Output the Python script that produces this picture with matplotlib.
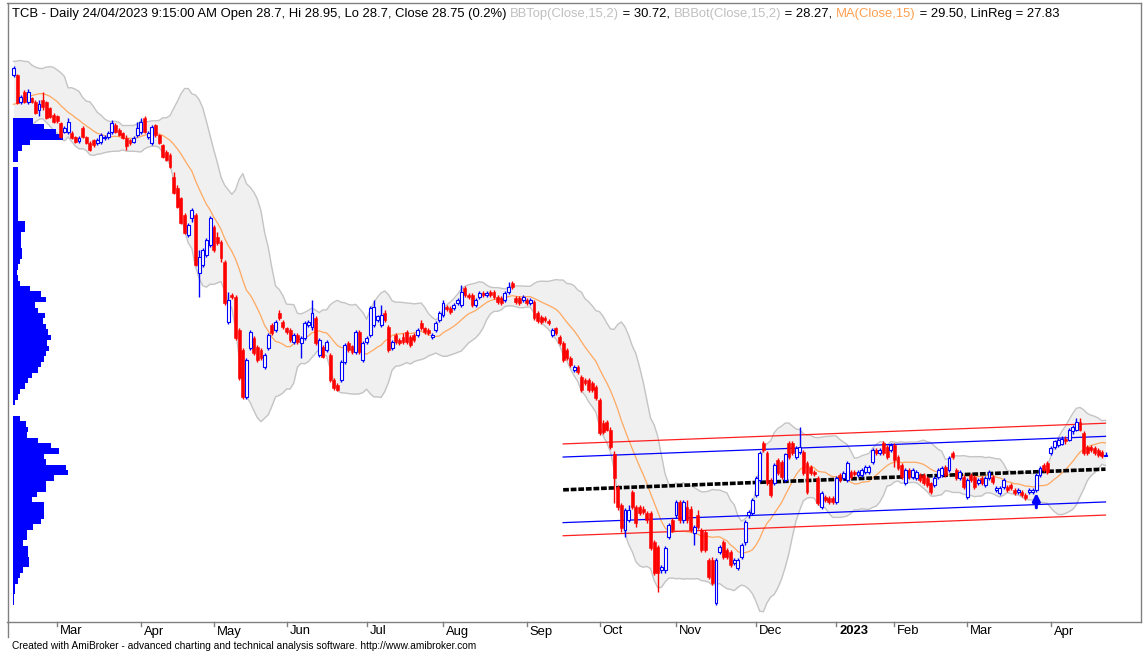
import numpy as np
import pandas as pd
import matplotlib
matplotlib.use("Agg")
import matplotlib.pyplot as plt
from matplotlib.transforms import blended_transform_factory

# ---------------- data (TCB daily, 11 Feb 2022 .. 24 Apr 2023) ----------------
pre_close = [49.5, 49.0, 48.6, 48.9, 48.3, 48.8, 49.4, 49.8, 50.3, 50.9, 51.4, 51.6, 51.9, 51.5]

open_ = [
51.95,51.95,50.3,50.9,50.3,50.55,50.3,49.8,50.4,50.3,
49.9,49.5,49.45,49.0,48.45,48.45,48.4,48.15,47.9,48.7,
48.15,47.8,47.95,47.8,47.85,48.1,48.15,48.45,48.9,48.6,
48.4,48.1,47.95,47.85,48.3,48.45,49.3,48.15,47.8,48.9,
48.3,47.65,47.25,47.05,45.7,45.05,44.45,43.4,42.2,43.2,
43.4,39.85,40.35,40.95,41.55,42.65,42.05,41.75,40.55,36.9,
38.5,38.4,36.4,35.15,32.3,35.3,35.9,35.35,35.15,34.15,
35.3,36.7,36.4,37.45,36.9,36.5,36.4,35.65,36.1,35.6,
35.9,36.7,36.55,37.1,34.85,35.35,35.15,34.85,33.35,33.05,
33.35,34.45,35.6,35.4,35.05,36.25,34.55,35.65,36.1,36.7,
37.0,36.7,37.45,36.55,35.3,36.1,35.8,35.95,36.25,35.95,
36.1,36.1,36.8,36.5,36.4,35.95,36.4,37.0,37.3,37.8,
37.75,37.75,38.05,37.9,38.95,38.5,38.5,37.9,38.4,38.65,
38.5,38.7,38.7,38.4,38.35,38.2,38.7,39.25,38.35,38.35,
38.2,38.2,38.05,38.1,37.45,37.2,37.1,36.95,36.1,36.5,
35.95,35.6,35.15,34.7,33.95,34.15,33.5,33.35,33.35,33.15,
32.9,32.1,30.7,30.8,30.3,28.8,26.8,25.7,24.2,24.8,
26.5,25.6,25.6,25.5,25.2,25.2,23.45,23.15,21.75,21.75,
23.75,24.8,25.1,25.9,24.8,25.6,25.5,24.0,25.1,24.2,
24.05,22.35,22.35,19.75,22.85,23.45,22.95,22.85,22.2,21.9,
22.55,23.45,25.1,25.2,26.3,27.25,29.5,28.9,27.25,27.05,
28.45,28.35,27.25,29.5,29.5,28.65,28.95,28.95,28.3,28.05,
27.75,27.35,25.6,26.2,26.15,26.15,25.9,27.55,27.35,27.25,
27.75,27.75,27.55,27.55,27.75,27.75,28.35,29.05,28.9,29.5,
29.25,29.05,29.4,28.65,28.15,27.05,27.85,27.4,27.35,27.55,
27.55,27.35,27.05,26.95,27.4,27.55,28.05,27.85,28.9,27.85,
27.35,27.4,26.2,27.55,27.4,27.05,27.35,26.95,27.35,27.4,
26.65,26.45,26.8,26.8,26.95,26.65,26.5,26.5,26.35,26.5,
26.5,26.65,27.55,28.15,28.3,28.9,29.25,29.4,29.45,29.75,
29.7,30.2,30.3,30.8,30.1,29.25,29.25,29.2,29.05,28.95,
28.7]

close = [
52.35,50.25,50.6,50.3,50.9,50.3,49.6,50.15,50.0,49.3,
49.4,49.05,49.15,48.15,48.7,49.05,48.1,47.85,48.1,48.15,
47.8,47.35,47.65,47.95,48.3,48.15,48.4,49.0,48.45,48.3,
48.1,47.6,47.8,48.1,48.7,49.05,48.45,48.4,48.75,48.3,
47.8,46.95,46.75,46.3,44.75,43.9,42.9,42.3,42.8,43.7,
40.35,40.85,41.25,41.9,43.2,41.25,41.7,40.8,38.05,38.2,
38.4,35.9,33.45,32.3,34.55,36.25,35.0,34.55,34.7,34.85,
36.1,36.2,36.9,37.1,36.55,36.25,35.8,36.1,35.65,35.9,
36.8,36.9,37.45,35.6,35.8,34.75,35.65,33.35,32.85,32.75,
34.45,35.45,35.15,35.05,36.25,35.05,35.6,35.9,37.75,37.8,
37.25,37.3,37.0,35.15,35.65,35.65,35.6,35.65,35.65,35.5,
35.8,36.4,36.5,36.25,36.2,36.1,36.8,37.45,38.05,37.65,
37.5,37.9,38.2,38.7,38.5,38.4,37.9,38.2,38.65,38.5,
38.65,38.5,38.4,38.1,38.05,38.65,39.0,39.0,38.1,38.05,
38.4,38.05,38.2,37.1,36.95,36.9,37.0,36.8,36.4,36.2,
35.6,34.55,34.7,34.25,34.15,33.8,32.75,33.15,32.75,32.75,
32.25,30.1,30.15,30.3,29.25,27.35,25.6,24.3,25.4,25.4,
25.6,24.6,25.2,25.3,24.8,23.1,21.55,21.55,21.95,23.1,
24.5,24.2,25.9,24.8,25.9,24.8,24.2,24.35,24.35,22.95,
22.95,21.3,20.95,22.35,23.15,22.55,22.55,22.05,22.35,22.35,
23.3,24.7,25.3,26.0,27.35,28.9,29.05,27.05,26.3,28.15,
27.65,27.4,28.8,28.65,28.9,29.2,29.25,27.65,26.5,27.65,
27.6,25.85,26.45,26.0,25.9,25.9,27.35,27.25,27.65,28.3,
27.4,27.6,27.75,27.85,28.05,28.05,29.05,28.9,29.05,28.9,
28.65,29.4,28.45,28.0,27.4,27.85,27.4,27.85,27.75,27.25,
27.05,26.95,26.5,27.35,27.85,28.0,27.55,28.6,28.65,27.35,
27.75,26.8,27.25,27.25,26.8,27.25,27.05,27.35,27.75,27.1,
26.75,26.75,27.25,26.65,26.75,26.45,26.65,26.35,26.15,26.65,
26.65,27.55,28.0,27.85,27.75,29.2,29.6,29.7,29.75,29.6,
30.3,30.5,30.8,30.3,28.9,28.9,29.05,28.9,28.75,28.7,
28.75]

high = [
52.5,52.0,50.7,51.0,51.1,50.6,50.4,50.4,50.9,50.35,
50.0,49.6,49.5,49.05,48.85,49.3,48.5,48.2,48.2,48.85,
48.2,47.9,48.05,48.1,48.4,48.3,48.5,49.2,49.0,48.7,
48.45,48.3,48.05,48.2,49.05,49.3,49.45,48.5,48.9,48.95,
48.35,47.75,47.35,47.2,46.0,45.25,44.5,43.5,42.9,43.85,
43.5,41.25,41.4,42.0,43.35,42.8,42.35,41.9,40.65,38.7,
38.65,38.5,36.5,35.3,34.7,36.4,36.05,35.45,35.3,35.0,
36.2,36.8,37.0,37.6,37.0,36.6,36.5,36.2,36.2,36.05,
36.95,37.0,38.2,37.25,35.9,35.45,35.8,35.0,33.45,33.15,
34.55,35.6,35.7,35.5,36.4,36.4,35.7,36.05,37.85,38.2,
37.3,37.9,37.6,36.7,35.8,36.2,35.9,36.2,36.4,36.1,
36.2,36.5,37.0,36.6,36.5,36.2,36.95,37.55,38.2,37.9,
37.85,38.05,38.35,39.15,39.05,38.65,38.65,38.35,38.75,38.75,
38.75,38.8,38.8,38.5,38.45,38.75,39.3,39.35,38.45,38.45,
38.5,38.35,38.35,38.2,37.55,37.3,37.25,37.05,36.5,36.6,
36.1,35.7,35.3,34.8,34.25,34.25,33.65,33.45,33.45,33.25,
33.05,32.25,30.9,30.9,30.5,29.0,26.95,25.85,25.55,25.7,
26.65,25.7,25.7,25.65,25.35,25.35,23.6,23.3,22.05,23.2,
24.6,24.9,26.0,26.0,26.0,26.0,25.65,24.5,25.4,24.3,
24.2,22.5,22.55,22.5,23.3,23.6,23.1,22.95,22.5,22.5,
23.4,24.8,25.4,26.15,27.5,29.0,29.6,29.0,27.35,28.3,
28.6,28.45,28.9,29.6,29.6,29.3,30.5,29.05,28.4,28.15,
27.85,27.5,26.55,26.3,26.25,26.25,27.5,27.65,27.8,28.4,
27.85,27.85,27.85,28.0,28.15,28.15,29.2,29.2,29.2,29.6,
29.4,29.5,29.5,28.75,28.3,28.0,28.0,28.0,27.85,27.65,
27.65,27.5,27.15,27.5,28.0,28.1,28.15,28.7,29.0,28.0,
27.85,27.55,27.35,27.65,27.55,27.35,27.5,27.5,27.85,27.55,
26.9,26.9,27.35,26.95,27.05,26.75,26.75,26.65,26.45,26.75,
26.75,27.65,28.1,28.3,28.4,29.3,29.7,29.8,29.9,29.9,
30.4,30.6,31.0,31.0,30.2,29.4,29.4,29.3,29.2,29.05,
28.95]

low = [
51.8,50.15,50.15,50.25,50.15,50.25,49.55,49.45,49.8,49.25,
49.3,49.0,49.0,48.1,48.4,48.35,48.05,47.8,47.8,48.1,
47.75,47.3,47.55,47.65,47.75,47.95,48.05,48.35,48.4,48.2,
48.05,47.35,47.65,47.8,48.15,48.35,48.4,48.05,47.65,48.15,
47.75,46.9,46.7,46.25,44.7,43.85,42.85,42.25,42.05,42.95,
40.3,38.4,40.25,40.85,41.45,41.15,41.55,40.55,37.9,36.75,
38.3,35.8,33.35,32.2,32.2,35.15,34.85,34.45,34.55,34.0,
35.15,36.1,36.25,37.0,36.45,36.15,35.65,35.55,35.55,34.7,
35.8,36.55,36.4,35.5,34.75,34.7,35.05,33.2,32.7,32.65,
33.2,34.3,35.05,34.9,34.9,34.9,34.45,35.55,35.95,36.55,
36.9,36.55,36.9,35.05,35.15,35.55,35.5,35.55,35.55,35.35,
35.65,35.95,36.4,36.15,36.1,35.85,36.25,36.9,37.2,37.55,
37.35,37.6,37.9,37.8,38.4,38.3,37.8,37.8,38.3,38.4,
38.4,38.4,38.3,37.95,37.9,38.1,38.6,38.9,37.95,37.9,
38.1,37.9,37.9,37.0,36.8,36.75,36.9,36.7,35.95,36.1,
35.5,34.45,34.55,34.15,33.8,33.7,32.6,33.05,32.6,32.6,
32.1,30.0,30.05,30.2,29.15,25.85,25.4,24.05,23.75,24.7,
25.45,24.35,25.1,25.15,24.65,22.95,21.45,20.4,21.6,21.6,
23.65,24.05,24.95,24.65,24.65,24.65,24.05,23.25,24.25,22.85,
22.85,21.2,20.85,19.6,22.75,22.4,22.4,21.95,22.05,21.75,
22.4,23.3,24.95,25.1,26.2,27.1,28.95,26.95,26.2,26.95,
27.55,27.3,27.1,28.5,28.75,28.5,28.8,27.55,26.4,27.55,
27.5,25.7,25.45,25.9,25.75,25.75,25.75,27.1,27.25,27.1,
27.3,27.5,27.4,27.4,27.6,27.6,28.2,28.75,28.75,28.75,
28.5,28.95,28.05,27.85,27.3,26.95,27.3,27.3,27.25,27.1,
26.95,26.8,26.4,26.8,27.3,27.4,27.4,27.7,28.5,27.25,
27.25,26.7,26.1,27.1,26.7,26.95,26.95,26.8,27.25,27.0,
26.5,26.35,26.7,26.5,26.65,26.35,26.4,26.2,26.0,26.4,
26.4,26.5,27.4,27.7,27.6,28.75,29.15,29.25,29.35,29.45,
29.6,30.05,30.2,30.2,28.75,28.75,28.95,28.75,28.65,28.6,
28.7]

# volume-at-price profile (relative volume per price bin, bins from 19.6 upward)
vap_start = 19.6
vap_step = 0.33
vap_volume = [
1,1,2,2,5,7,10,16,16,15,
15,10,14,14,20,27,30,30,30,19,
24,32,32,40,54,52,32,30,45,37,
25,14,15,13,7,0,0,2,5,7,
12,15,19,25,27,30,32,35,33,37,
34,32,29,31,25,22,32,27,17,7,
5,4,5,7,9,9,8,8,8,12,
12,5,5,5,5,5,5,5,5,5,
5,0,5,5,9,17,49,42,30,20,
0,0,0,0,0,0,0,0,0,0]

holidays = ['2022-04-11', '2022-05-02', '2022-05-03', '2022-09-01', '2022-09-02',
            '2023-01-02', '2023-01-20', '2023-01-23', '2023-01-24', '2023-01-25', '2023-01-26']
first_day, last_day = '2022-02-11', '2023-04-24'
buy_signals = [281]
bb_period, bb_width = 15, 2
linreg_start = 151
channel_inner, channel_outer = 2.0, 2.8

# ---------------- derived ----------------
open_ = np.array(open_); close = np.array(close)
high = np.maximum(np.array(high), np.maximum(open_, close))
low = np.minimum(np.array(low), np.minimum(open_, close))
n = len(close)
assert len(open_) == n == len(high) == len(low), (len(open_), n, len(high), len(low))
x = np.arange(n)

dates = pd.bdate_range(first_day, last_day)
dates = dates[~dates.isin(pd.to_datetime(holidays))][:n]

allc = pd.Series(np.concatenate([pre_close, close]))
ma = allc.rolling(bb_period).mean().to_numpy()[len(pre_close):]
sd = allc.rolling(bb_period).std(ddof=0).to_numpy()[len(pre_close):]
bb_top = ma + bb_width * sd
bb_bot = ma - bb_width * sd

xr = x[linreg_start:]
coef = np.polyfit(xr, close[linreg_start:], 1)
lr = np.polyval(coef, xr)

# ---------------- figure ----------------
W, H = 1148, 652
fig = plt.figure(figsize=(W / 100, H / 100), dpi=100)
ax_l, ax_r, ax_t, ax_b = 7.5, 1140.5, 3.0, 621.5
ax = fig.add_axes([ax_l / W, 1 - ax_b / H, (ax_r - ax_l) / W, (ax_b - ax_t) / H])
px_per_bar = 3.64
xmin = -(13.5 - ax_l) / px_per_bar
xmax = xmin + (ax_r - ax_l) / px_per_bar
ax.set_xlim(xmin, xmax)
ax.set_ylim(56.51 - ax_b / 16.4, 56.51 - ax_t / 16.4)

for s in ax.spines.values():
    s.set_color('#808080')
    s.set_linewidth(1.0)
ax.set_yticks([])

# Bollinger band cloud
ax.fill_between(x, bb_bot, bb_top, color='#f0f0f0', lw=0, zorder=1)
ax.plot(x, bb_top, color='#c4c4c4', lw=1.0, zorder=2)
ax.plot(x, bb_bot, color='#c4c4c4', lw=1.0, zorder=2)

# volume at price profile (stepped, continuous)
vap_volume = np.array(vap_volume, dtype=float)
vap_edges = vap_start + vap_step * np.arange(len(vap_volume) + 1)
vap_max_frac = 0.048
vap_w = vap_volume / vap_volume.max() * vap_max_frac * (xmax - xmin)
vap_left = -0.05
ax.fill_betweenx(vap_edges, vap_left, vap_left + np.append(vap_w, 0.0), step='post',
                 color='#0000ff', lw=0, zorder=2.5)

# moving average
ax.plot(x, ma, color='#ffa860', lw=0.9, zorder=3)

# linear regression channel
ax.plot(xr, lr + channel_outer, color='#ff2020', lw=0.9, zorder=3)
ax.plot(xr, lr - channel_outer, color='#ff2020', lw=0.9, zorder=3)
ax.plot(xr, lr + channel_inner, color='#0000ff', lw=0.9, zorder=3)
ax.plot(xr, lr - channel_inner, color='#0000ff', lw=0.9, zorder=3)
ax.plot(xr, lr, color='black', lw=2.6, ls=(0, (1.6, 0.5)), zorder=3.5)

# candles
up = close >= open_
cols = np.where(up, '#0000ff', '#ff0000')
ax.vlines(x, low, high, colors=cols, lw=1.0, zorder=5)
body_lo = np.minimum(open_, close)
body_h = np.maximum(np.abs(close - open_), 0.04)
ax.bar(x[~up], body_h[~up], bottom=body_lo[~up], width=0.8,
       color='#ff0000', edgecolor='#ff0000', lw=0.4, zorder=6)
ax.bar(x[up], body_h[up], bottom=body_lo[up], width=0.8,
       facecolor='#ffffff', edgecolor='#0000ff', lw=0.8, zorder=6)

# buy arrows
for b in buy_signals:
    ax.annotate('', xy=(b, low[b] - 0.05), xytext=(b, low[b] - 0.95),
                arrowprops=dict(arrowstyle='-|>', color='#0000ff', lw=2.2,
                                mutation_scale=11, shrinkA=0, shrinkB=0),
                zorder=7)

# month ticks
FONT = 'Liberation Sans'
FS = 9.35
month_start = [i for i in range(n) if i > 0 and dates[i].month != dates[i - 1].month]
trans = blended_transform_factory(ax.transData, ax.transAxes)
hgt = ax_b - ax_t
ax.set_xticks([])
for i in month_start:
    d = dates[i]
    lab = str(d.year) if d.month == 1 else d.strftime('%b')
    ax.plot([i, i], [0, -4 / hgt], transform=trans, color='#808080', lw=1,
            clip_on=False)
    ax.text(i + 0.8, -10 / hgt, lab, transform=trans, ha='left', va='center',
            fontsize=FS, family=FONT, fontweight='bold' if d.month == 1 else 'normal')

# extend left frame below axis
fig.add_artist(plt.Line2D([ax_l / W, ax_l / W], [1 - ax_b / H, 1 - 637 / H],
                          color='#808080', lw=1.0))

# title line
segments = [
    ("TCB - Daily 24/04/2023 9:15:00 AM Open 28.7, Hi 28.95, Lo 28.7, Close 28.75 (0.2%) ", '#000000'),
    ("BBTop(Close,15,2)", '#c0c0c0'),
    (" = 30.72, ", '#000000'),
    ("BBBot(Close,15,2)", '#c0c0c0'),
    (" = 28.27, ", '#000000'),
    ("MA(Close,15)", '#ffa050'),
    (" = 29.50, LinReg = 27.83", '#000000'),
]
prev = fig.text(12 / W, 1 - 14 / H, segments[0][0], color=segments[0][1],
                fontsize=FS, family=FONT, ha='left', va='center')
for txt, col in segments[1:]:
    prev = ax.annotate(txt, xy=(1, 0), xycoords=prev, ha='left', va='bottom',
                       color=col, fontsize=FS, family=FONT, annotation_clip=False)

fig.text(12 / W, 1 - 646 / H,
         "Created with AmiBroker - advanced charting and technical analysis software. http://www.amibroker.com",
         fontsize=7.3, family=FONT, ha='left', va='center')

fig.savefig('out.png', dpi=100)
